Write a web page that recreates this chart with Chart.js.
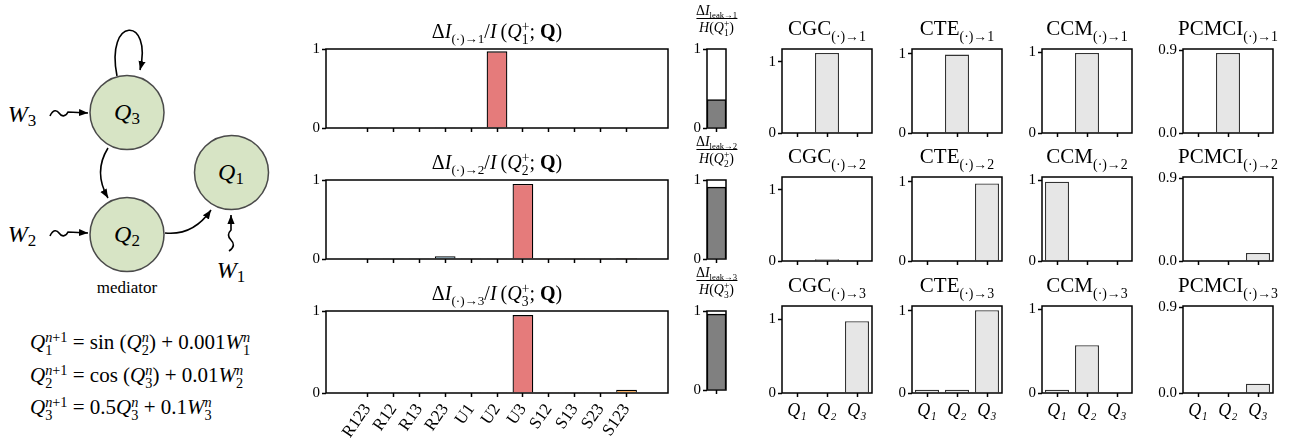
<!DOCTYPE html>
<html>
<head>
<meta charset="utf-8">
<script src="https://cdn.jsdelivr.net/npm/chart.js@4.4.0/dist/chart.umd.min.js"></script>
<style>
  body { margin: 0; background: #fff; }
  #fig { position: relative; width: 1293px; height: 442px; overflow: hidden; font-family: "Liberation Serif", "DejaVu Serif", serif; color: #000; }
  svg text { font-family: "Liberation Serif", "DejaVu Serif", serif; }
  canvas { position: absolute; }
  .t { position: absolute; white-space: nowrap; transform: translateX(-50%); }
  .main { font-size: 20px; line-height: 20px; }
  .small { font-size: 21px; line-height: 22px; }
  sub { font-size: 0.66em; vertical-align: -0.4em; line-height: 0; }
  .ss { display: inline-block; font-size: 0.68em; line-height: 0.95; vertical-align: -0.45em; text-align: left; }
  .ss span { display: block; }
  .eq { position: absolute; left: 30px; font-size: 21px; line-height: 24px; white-space: nowrap; }
  .frac { position: absolute; font-size: 14px; line-height: 14px; text-align: center; transform: translateX(-50%); white-space: nowrap; }
  .frac sub { font-size: 0.62em; }
  .frac .den { border-top: 1px solid #000; padding-top: 1px; }
</style>
</head>
<body>
<div id="fig">
  <svg width="300" height="300" style="position:absolute;left:0;top:0">
    <defs>
      <marker id="ah" viewBox="0 0 10 10" refX="10" refY="5" markerWidth="9" markerHeight="9" markerUnits="userSpaceOnUse" orient="auto">
        <path d="M0,1 L10,5 L0,9 z" fill="#000"/>
      </marker>
    </defs>
    <g fill="none" stroke="#000" stroke-width="1.6">
      <path d="M117,76 C105,16 153,16 140,70" marker-end="url(#ah)"/>
      <path d="M108,148 Q93,172 108,198" marker-end="url(#ah)"/>
      <path d="M165,233 Q193,236 211,210" marker-end="url(#ah)"/>
      <path d="M50,116 C53,109 57,110 59,113 S65,118 68,112 L88,113" marker-end="url(#ah)"/>
      <path d="M50,236 C53,229 57,230 59,233 S65,238 68,232 L88,233" marker-end="url(#ah)"/>
      <path d="M229,251 C235,247 234,243 231,240 S227,234 231,230 L231,215" marker-end="url(#ah)"/>
    </g>
    <g fill="#d7e4c5" stroke="#4a4a4a" stroke-width="1.5">
      <circle cx="127" cy="112.5" r="37"/>
      <circle cx="127" cy="234.5" r="37"/>
      <circle cx="231.5" cy="172.5" r="37"/>
    </g>
    <g font-size="24" font-style="italic" text-anchor="middle">
      <text x="127" y="120">Q<tspan font-size="17" font-style="normal" dy="4">3</tspan></text>
      <text x="127" y="242">Q<tspan font-size="17" font-style="normal" dy="4">2</tspan></text>
      <text x="231" y="180">Q<tspan font-size="17" font-style="normal" dy="4">1</tspan></text>
      <text x="22" y="122">W<tspan font-size="17" font-style="normal" dy="4">3</tspan></text>
      <text x="22" y="242">W<tspan font-size="17" font-style="normal" dy="4">2</tspan></text>
      <text x="231" y="278">W<tspan font-size="17" font-style="normal" dy="4">1</tspan></text>
    </g>
    <text x="127" y="293" font-size="17" text-anchor="middle">mediator</text>
  </svg>

  <div class="eq" style="top:330px"><i>Q</i><span class="ss"><span><i>n</i>+1</span><span>1</span></span> = sin (<i>Q</i><span class="ss"><span><i>n</i></span><span>2</span></span>) + 0.001<i>W</i><span class="ss"><span><i>n</i></span><span>1</span></span></div>
  <div class="eq" style="top:363px"><i>Q</i><span class="ss"><span><i>n</i>+1</span><span>2</span></span> = cos (<i>Q</i><span class="ss"><span><i>n</i></span><span>3</span></span>) + 0.01<i>W</i><span class="ss"><span><i>n</i></span><span>2</span></span></div>
  <div class="eq" style="top:395px"><i>Q</i><span class="ss"><span><i>n</i>+1</span><span>3</span></span> = 0.5<i>Q</i><span class="ss"><span><i>n</i></span><span>3</span></span> + 0.1<i>W</i><span class="ss"><span><i>n</i></span><span>3</span></span></div>
</div>

<script>
// categories and values
const cats = ['R123', 'R12', 'R13', 'R23', 'U1', 'U2', 'U3', 'S12', 'S13', 'S23', 'S123'];
const surd1 = [0.004, 0, 0, 0.003, 0, 0.97, 0, 0, 0, 0, 0];
const surd2 = [0.003, 0.002, 0.002, 0.035, 0.002, 0.002, 0.95, 0.002, 0.002, 0.002, 0.012];
const surd3 = [0.003, 0.002, 0.002, 0.005, 0.002, 0.002, 0.95, 0.002, 0.003, 0.003, 0.04];
const leak = [0.36, 0.91, 0.96];

const qLabels = ['Q\u2081', 'Q\u2082', 'Q\u2083'];
const methods = ['CGC', 'CTE', 'CCM', 'PCMCI'];
const cgc = [[0, 1.12, 0], [0, 0.025, 0], [0, 0, 0.97]];
const cte = [[0, 0.99, 0], [0.01, 0.01, 0.98], [0.04, 0.04, 1.01]];
const ccm = [[0, 0.99, 0], [0.98, 0, 0], [0.04, 0.57, 0]];
const pcmci = [[0, 0.87, 0], [0, 0, 0.087], [0, 0, 0.097]];
const methodTicks = [[0, 1], [0, 1], [0, 1], [0, 0.9]];
const methodTickText = [['0', '1'], ['0', '1'], ['0', '1'], ['0.0', '0.9']];

const FONT = 'Liberation Serif';
const fig = document.getElementById('fig');
const surd = [surd1, surd2, surd3];
const methodData = [cgc, cte, ccm, pcmci];

const colorOf = c => c[0] === 'R' ? '#668392' : c[0] === 'U' ? '#e57b7b' : '#f9b266';

const boxPlugin = {
  id: 'box',
  afterDatasetsDraw(chart) {
    const a = chart.chartArea, ctx = chart.ctx;
    ctx.save();
    ctx.lineWidth = 1.5;
    ctx.strokeStyle = '#000';
    ctx.strokeRect(a.left, a.top, a.right - a.left, a.bottom - a.top);
    ctx.restore();
  }
};

const tickGrid = { drawOnChartArea: false, offset: false, tickLength: 4, tickWidth: 1.5, tickColor: '#000' };

function yAxis(max, vals, texts, w) {
  return {
    type: 'linear', min: 0, max: max,
    border: { display: false },
    grid: tickGrid,
    ticks: { color: '#000', padding: 2, font: { family: FONT, size: 15 },
      callback: v => texts[vals.indexOf(v)] },
    afterBuildTicks: s => { s.ticks = vals.map(v => ({ value: v })); },
    afterFit: s => { s.width = w; }
  };
}

function draw(boxL, boxT, boxW, boxH, yW, xH, xScale, yScale, dataset, labels) {
  const padT = 8, padR = 6;
  const c = document.createElement('canvas');
  const w = yW + boxW + padR, h = padT + boxH + xH;
  c.width = w; c.height = h;
  c.style.left = (boxL - yW) + 'px';
  c.style.top = (boxT - padT) + 'px';
  c.style.width = w + 'px';
  c.style.height = h + 'px';
  fig.appendChild(c);
  new Chart(c, {
    type: 'bar',
    data: { labels: labels, datasets: [dataset] },
    options: {
      responsive: false, animation: false, devicePixelRatio: 1,
      layout: { autoPadding: false, padding: { top: padT, right: padR, left: 0, bottom: 0 } },
      plugins: { legend: { display: false }, tooltip: { enabled: false } },
      scales: { x: xScale, y: yScale }
    },
    plugins: [boxPlugin]
  });
}

function addText(cls, html, x, y) {
  const d = document.createElement('div');
  d.className = cls;
  d.innerHTML = html;
  d.style.left = x + 'px';
  d.style.top = y + 'px';
  fig.appendChild(d);
}

const mainTop = [46, 177, 308];
const smallTop = [46, 174, 303];
const smallLeft = [782, 912, 1042, 1183];
const smallYW = [20, 20, 20, 30];

for (let r = 0; r < 3; r++) {
  const last = r === 2;
  // SURD bars
  draw(326, mainTop[r], 342, 85, 28, last ? 60 : 8,
    {
      type: 'linear', min: -1, max: 11,
      border: { display: false }, grid: tickGrid,
      ticks: { autoSkip: false, color: '#000', padding: 3, minRotation: 55, maxRotation: 55,
        font: { family: FONT, size: 17 }, callback: v => last ? cats[v] : '' },
      afterBuildTicks: s => { s.ticks = cats.map((_, i) => ({ value: i })); },
      afterFit: s => { s.height = last ? 60 : 8; }
    },
    yAxis(1, [0, 1], ['0', '1'], 28),
    { data: surd[r].map((v, i) => ({ x: i, y: v })), backgroundColor: cats.map(colorOf),
      borderColor: '#000', borderWidth: 1.3, barPercentage: 0.8, categoryPercentage: 1 },
    undefined);
  addText('t main',
    '\u0394<i>I</i><sub>(\u00b7)\u2192' + (r + 1) + '</sub>/<i>I</i>&thinsp;(<i>Q</i><span class="ss"><span>+</span><span>' + (r + 1) + '</span></span>; <b>Q</b>)',
    497, mainTop[r] - 25);

  // leak bar
  draw(707, mainTop[r], 19, 85, 16, 8,
    { type: 'category', border: { display: false }, grid: tickGrid,
      ticks: { display: true, callback: () => '' }, afterFit: s => { s.height = 8; } },
    yAxis(1, [0, 1], ['0', '1'], 16),
    { data: [leak[r]], backgroundColor: '#808080', borderColor: '#000', borderWidth: 1.5,
      barPercentage: 1, categoryPercentage: 1 },
    ['']);
  addText('frac',
    '<div>\u0394<i>I</i><sub>leak\u2192' + (r + 1) + '</sub></div><div class="den"><i>H</i>(<i>Q</i><span class="ss"><span>+</span><span>' + (r + 1) + '</span></span>)</div>',
    716.5, mainTop[r] - 42);

  // comparison methods
  for (let m = 0; m < 4; m++) {
    const colMax = Math.max(...methodData[m].flat()) * 1.05;
    draw(smallLeft[m], smallTop[r], 90, 90, smallYW[m], last ? 30 : 8,
      { type: 'category', border: { display: false }, grid: tickGrid,
        ticks: { color: '#000', padding: 3, font: { family: FONT, size: 18, style: 'italic' },
          callback: (v, i) => last ? qLabels[i] : '' },
        afterFit: s => { s.height = last ? 30 : 8; } },
      yAxis(colMax, methodTicks[m], methodTickText[m], smallYW[m]),
      { data: methodData[m][r], backgroundColor: '#e6e6e6', borderColor: '#333', borderWidth: 1.3,
        barPercentage: 0.8, categoryPercentage: 1 },
      qLabels);
    addText('t small', methods[m] + '<sub>(\u00b7)\u2192' + (r + 1) + '</sub>',
      smallLeft[m] + 45, smallTop[r] - 29);
  }
}
</script>
</body>
</html>
